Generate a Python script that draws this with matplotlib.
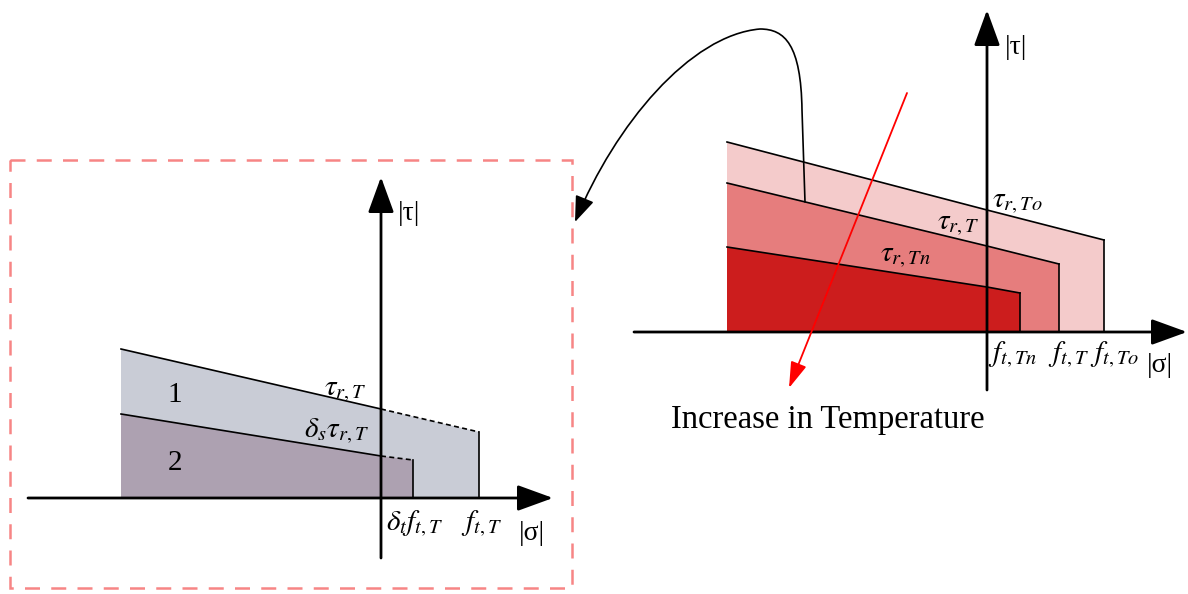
import matplotlib
matplotlib.use("Agg")
import matplotlib.pyplot as plt
from matplotlib.patches import Polygon, Rectangle, FancyArrowPatch
from matplotlib.path import Path

plt.rcParams["mathtext.fontset"] = "stix"
plt.rcParams["font.family"] = ["Liberation Serif", "DejaVu Serif"]

# everything is laid out in pixel units of the 1188x594 picture (y grows downwards)

# left panel: zoomed envelope, regions 1 and 2
left_origin = (381, 498)
left_x = [121, 381, 479]          # start, tau axis, f_t,T
left_top1 = [349, 409, 432]       # tau_r,T line
left_x2 = [121, 381, 413]         # start, tau axis, delta_t f_t,T
left_top2 = [414, 456, 460]       # delta_s tau_r,T line
left_colors = ["#c9ccd6", "#ada1b1"]
left_region_labels = ["1", "2"]

# right panel: envelopes at three temperatures
right_origin = (987, 332)
right_start = 727
right_end = [1104, 1059, 1020]            # f_t,To, f_t,T, f_t,Tn
right_tops = [[142, 210, 240],            # tau_r,To
              [183, 246, 264],            # tau_r,T
              [247, 287, 293]]            # tau_r,Tn
right_colors = ["#f4cbcb", "#e67d7d", "#cc1d1d"]

fig = plt.figure(figsize=(11.88, 5.94), dpi=100)
ax = fig.add_axes([0, 0, 1, 1])
ax.set_xlim(0, 1188)
ax.set_ylim(594, 0)
ax.axis("off")

def axis_arrow(x0, y0, x1, y1):
    ax.annotate("", xy=(x1, y1), xytext=(x0, y0),
                arrowprops=dict(arrowstyle="-|>,head_length=1.1,head_width=0.4",
                                mutation_scale=20, lw=2, color="black",
                                shrinkA=0, shrinkB=0), zorder=5)

# dashed frame
ax.add_patch(Rectangle((10, 160), 562, 428, fill=False, ec="#f78585",
                       lw=1.8, ls=(0, (6, 4.5)), zorder=1))

# ---- left panel
ox, oy = left_origin
for xs, tops, col in [(left_x, left_top1, left_colors[0]), (left_x2, left_top2, left_colors[1])]:
    pts = [(xs[0], oy)] + list(zip(xs, tops)) + [(xs[-1], oy)]
    ax.add_patch(Polygon(pts, closed=True, fc=col, ec="none", zorder=2))
    ax.plot(xs[:2], tops[:2], color="black", lw=1.2, zorder=3)
    ax.plot(xs[1:], tops[1:], color="black", lw=1.2, ls=(0, (3, 2)), zorder=3)
    ax.plot([xs[-1], xs[-1]], [tops[-1], oy], color="black", lw=1.2, zorder=3)

axis_arrow(ox, 558, ox, 177)
axis_arrow(28, oy, 553, oy)

fs = 20
mfs = 21
ax.text(409, 214, "|τ|", fontsize=fs, ha="center", va="center")
ax.text(532, 533, "|σ|", fontsize=fs, ha="center", va="center")
ax.text(175, 395, left_region_labels[0], fontsize=21, ha="center", va="center")
ax.text(175, 463, left_region_labels[1], fontsize=21, ha="center", va="center")
ax.text(345, 391, r"$\tau_{r,T}$", fontsize=mfs, ha="center", va="center")
ax.text(337, 431, r"$\delta_s\tau_{r,T}$", fontsize=mfs, ha="center", va="center")
ax.text(415, 524, r"$\delta_t f_{t,T}$", fontsize=mfs, ha="center", va="center")
ax.text(481, 524, r"$f_{t,T}$", fontsize=mfs, ha="center", va="center")

# ---- right panel
rx, ry = right_origin
for end, tops, col in zip(right_end, right_tops, right_colors):
    xs = [right_start, rx, end]
    pts = [(right_start, ry)] + list(zip(xs, tops)) + [(end, ry)]
    ax.add_patch(Polygon(pts, closed=True, fc=col, ec="none", zorder=2))
    ax.plot(xs, tops, color="black", lw=1.2, zorder=3)
    ax.plot([end, end], [tops[-1], ry], color="black", lw=1.2, zorder=3)

axis_arrow(rx, 390, rx, 10)
axis_arrow(634, ry, 1187, ry)

ax.text(1016, 48, "|τ|", fontsize=fs, ha="center", va="center")
ax.text(1160, 366, "|σ|", fontsize=fs, ha="center", va="center")
ax.text(1017, 203, r"$\tau_{r,To}$", fontsize=mfs, ha="center", va="center")
ax.text(958, 225, r"$\tau_{r,T}$", fontsize=mfs, ha="center", va="center")
ax.text(905, 257, r"$\tau_{r,Tn}$", fontsize=mfs, ha="center", va="center")
ax.text(1013, 355, r"$f_{t,Tn}$", fontsize=mfs, ha="center", va="center")
ax.text(1068, 355, r"$f_{t,T}$", fontsize=mfs, ha="center", va="center")
ax.text(1114, 355, r"$f_{t,To}$", fontsize=mfs, ha="center", va="center")

# temperature arrow
ax.annotate("", xy=(789, 388), xytext=(907, 93),
            arrowprops=dict(arrowstyle="-|>,head_length=0.8,head_width=0.25",
                            mutation_scale=20, lw=1.3, color="red",
                            shrinkA=0, shrinkB=0), zorder=6)
ax.text(828, 420, "Increase in Temperature", fontsize=23.5, ha="center", va="center")

# curved pointer from the right envelope to the zoomed frame
verts = [(805, 202), (802, 110), (801, 45), (785, 29), (760, 29),
         (690, 35), (615, 125), (575, 222)]
codes = [Path.MOVETO, Path.LINETO, Path.CURVE4, Path.CURVE4, Path.CURVE4,
         Path.CURVE4, Path.CURVE4, Path.CURVE4]
ax.add_patch(FancyArrowPatch(path=Path(verts, codes),
                             arrowstyle="-|>,head_length=0.8,head_width=0.3",
                             mutation_scale=20, lw=1.2, color="black", zorder=6))

fig.savefig("out.png", dpi=100)
